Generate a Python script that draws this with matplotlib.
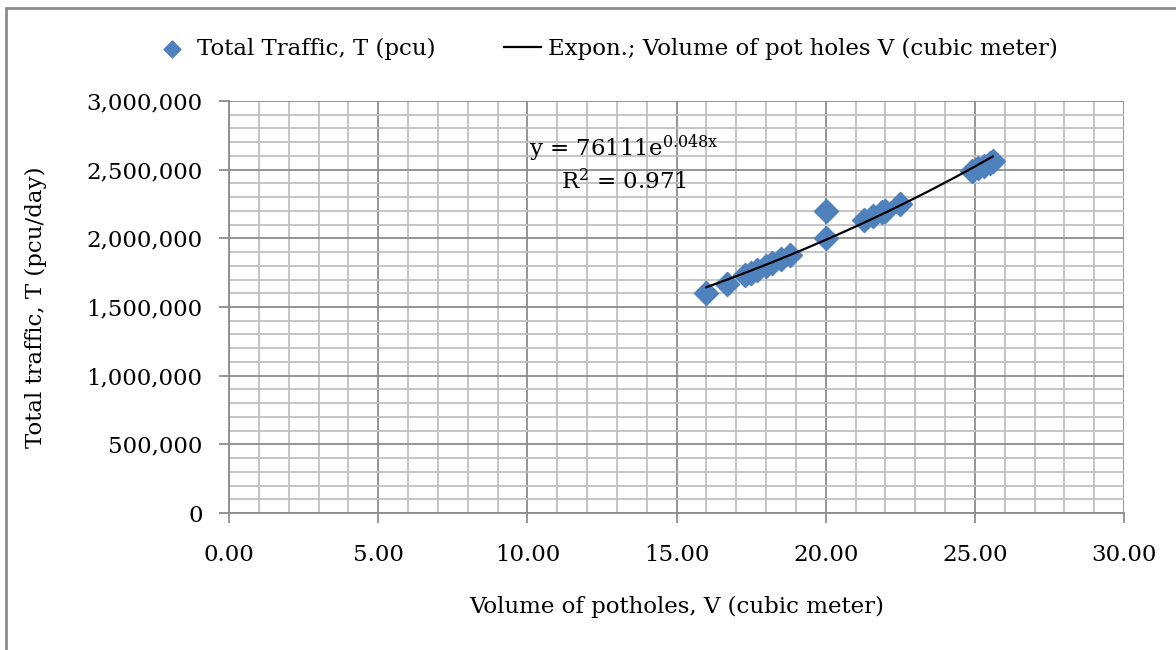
import numpy as np
import matplotlib.pyplot as plt
from matplotlib.patches import Rectangle
from matplotlib.ticker import FuncFormatter, MultipleLocator

# data
volume = [16.0, 16.7, 17.3, 17.5, 17.7, 18.0, 18.2, 18.5, 18.8,
          20.0, 20.0, 21.3, 21.6, 21.9, 22.0, 22.5,
          24.9, 25.1, 25.3, 25.5, 25.6]
traffic = [1600000, 1670000, 1730000, 1750000, 1770000, 1800000, 1820000, 1850000, 1880000,
           2000000, 2200000, 2130000, 2160000, 2190000, 2200000, 2250000,
           2490000, 2510000, 2530000, 2550000, 2560000]

eq_line1 = r"y = 76111e$^{\mathrm{0.048x}}$"
eq_line2 = r"R$^{\mathrm{2}}$ = 0.971"

plt.rcParams['font.family'] = ['DejaVu Serif']
plt.rcParams['mathtext.fontset'] = 'dejavuserif'

fig = plt.figure(figsize=(11.76, 6.5), dpi=100)
ax = fig.add_axes([229 / 1176, 1 - 513 / 650, (1124 - 229) / 1176, (513 - 101) / 650])

# outer chart border (cropped on the right and bottom)
fig.patches.append(Rectangle((6 / 1176, -0.05), 1.1, 1 - 8 / 650 + 0.05,
                             transform=fig.transFigure, fill=False,
                             edgecolor='#8c8c8c', lw=2))

# exponential trendline fitted from the points
vx = np.array(volume)
ty = np.array(traffic)
b, lna = np.polyfit(vx, np.log(ty), 1)
xs = np.linspace(vx.min(), vx.max(), 100)
ax.plot(xs, np.exp(lna) * np.exp(b * xs), color='black', lw=1.6, zorder=3,
        label='Expon.; Volume of pot holes V (cubic meter)')
ax.scatter(vx, ty, marker='D', s=150, color='#4f81bd', zorder=2,
           label='Total Traffic, T (pcu)')

ax.set_xlim(0, 30)
ax.set_ylim(0, 3000000)
ax.xaxis.set_major_locator(MultipleLocator(5))
ax.xaxis.set_minor_locator(MultipleLocator(1))
ax.yaxis.set_major_locator(MultipleLocator(500000))
ax.yaxis.set_minor_locator(MultipleLocator(100000))
ax.xaxis.set_major_formatter(FuncFormatter(lambda v, p: f"{v:.2f}"))
ax.yaxis.set_major_formatter(FuncFormatter(lambda v, p: f"{v:,.0f}"))

ax.grid(which='major', color='#8c8c8c', lw=1.3)
ax.grid(which='minor', color='#c0c0c0', lw=1.3)
ax.set_axisbelow(True)
for s in ['top', 'right']:
    ax.spines[s].set_visible(False)
for s in ['left', 'bottom']:
    ax.spines[s].set_color('#8c8c8c')
    ax.spines[s].set_linewidth(1.3)
ax.tick_params(which='major', length=7, width=1.3, color='#8c8c8c',
               labelsize=16.5, pad=12)
ax.tick_params(which='minor', length=0)
ax.tick_params(axis='x', pad=15)

ax.set_xlabel("Volume of potholes, V (cubic meter)", fontsize=16.5, labelpad=22)
ax.set_ylabel("Total traffic, T (pcu/day)", fontsize=16.5, labelpad=28)

ax.text(13.25, 2655000, eq_line1, fontsize=16.5, ha='center', va='center')
ax.text(13.25, 2415000, eq_line2, fontsize=16.5, ha='center', va='center')

handles, labels = ax.get_legend_handles_labels()
fig.legend(handles[::-1], labels[::-1], loc='center', bbox_to_anchor=(0.515, 1 - 49 / 650),
           ncol=2, frameon=False, fontsize=16.5, handlelength=1.6,
           handletextpad=0.3, columnspacing=3.0, markerscale=0.7)

fig.savefig("out.png", dpi=100)
